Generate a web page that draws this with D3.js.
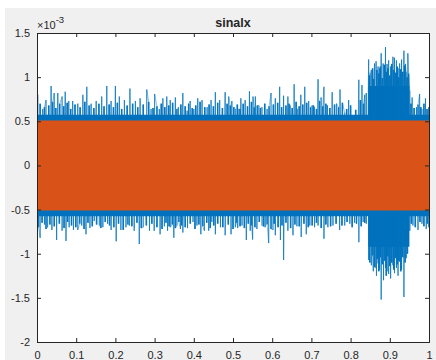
<!DOCTYPE html>
<html>
<head>
<meta charset="utf-8">
<script src="https://cdn.jsdelivr.net/npm/d3@7"></script>
<style>
  html, body { margin: 0; padding: 0; background: #ffffff; }
  svg { display: block; }
  text { font-family: "Liberation Sans", Arial, Helvetica, sans-serif; fill: #262626; }
</style>
</head>
<body>
<script>
// ---------- data (values in units of 1e-3) ----------
const titleText = "sinalx";
const xTicks = [0, 0.1, 0.2, 0.3, 0.4, 0.5, 0.6, 0.7, 0.8, 0.9, 1];
const yTicks = [-2, -1.5, -1, -0.5, 0, 0.5, 1, 1.5];
const exponentBase = "×10";
const exponentPower = "-3";

// blue series: tallest upper spike peaks (time, value)
const blueUpperT = [0.002,0.0145,0.023,0.036,0.044,0.053,0.064,0.072,0.081,0.091,0.104,0.117,0.127,0.138,0.151,0.165,0.178,0.189,0.200,0.210,0.223,0.237,0.251,0.263,0.280,0.291,0.300,0.312,0.321,0.331,
  0.340,0.353,0.361,0.372,0.383,0.391,0.400,0.410,0.421,0.434,0.444,0.455,0.466,0.480,0.489,0.497,0.506,0.515,0.520,0.531,0.542,0.551,0.557,0.566,0.574,0.587,0.597,0.608,0.619,0.629,0.640,0.646,0.656,0.665,
  0.673,0.683,0.693,0.702,0.708,0.717,0.725,0.732,0.741,0.753,0.764,0.773,0.785,0.795,0.806,0.821,0.829,0.836,0.840,
  0.846,0.850,0.853,0.861,0.865,0.870,0.874,0.878,0.883,0.889,0.893,0.897,0.902,0.908,0.912,0.917,0.921,0.925,0.930,0.936,0.940,0.942,0.946,
  0.951,0.957,0.968,0.976,0.982,0.991,0.999];
const blueUpperV = [0.80,0.64,0.74,0.90,0.82,0.82,0.78,0.835,0.73,0.73,0.70,0.80,0.89,0.70,0.73,0.78,0.90,0.73,0.90,0.78,0.74,0.87,0.73,0.76,0.86,0.64,0.81,0.64,0.76,0.78,
  0.74,0.77,0.66,0.82,0.62,0.73,0.64,0.76,0.74,0.66,0.74,0.83,0.74,0.83,0.78,0.73,0.64,0.64,0.76,0.74,0.84,0.78,0.78,0.68,0.66,0.64,0.82,0.76,0.89,0.79,0.78,0.68,0.92,0.64,
  0.80,0.89,0.73,0.68,0.66,0.975,0.77,0.89,0.68,0.83,0.70,0.86,0.60,0.74,0.56,0.97,0.91,0.80,0.82,
  1.20,1.05,1.08,1.155,1.18,1.12,1.10,1.27,1.155,1.34,1.15,1.19,1.12,1.23,1.22,1.19,1.10,1.155,1.20,1.30,1.15,1.06,1.27,
  0.85,0.77,0.66,0.81,0.64,0.76,0.66];

// blue series: medium upper spikes between the tall ones (time, value)
const blueUpperMidT = [0.008,0.019,0.030,0.040,0.048,0.058,0.068,0.077,0.086,0.097,0.110,0.122,0.133,0.145,0.158,0.171,0.184,0.195,0.205,0.216,0.230,0.244,0.257,0.271,0.285,0.296,0.306,0.317,0.326,0.336,
  0.346,0.357,0.367,0.378,0.387,0.396,0.405,0.416,0.428,0.439,0.450,0.461,0.473,0.485,0.493,0.502,0.511,0.518,0.526,0.537,0.547,0.554,0.562,0.570,0.581,0.592,0.603,0.614,0.624,0.635,
  0.643,0.651,0.661,0.669,0.678,0.688,0.698,0.705,0.713,0.721,0.729,0.737,0.747,0.759,0.769,0.779,0.790,0.800,0.813,0.825,0.833,
  0.848,0.856,0.859,0.867,0.872,0.876,0.881,0.886,0.891,0.895,0.900,0.905,0.910,0.915,0.919,0.923,0.928,0.933,0.938,0.944,0.948,
  0.954,0.962,0.972,0.979,0.987,0.995];
const blueUpperMidV = [0.70,0.66,0.68,0.72,0.65,0.70,0.67,0.71,0.64,0.69,0.66,0.72,0.68,0.65,0.70,0.67,0.69,0.66,0.71,0.64,0.68,0.70,0.66,0.69,0.72,0.65,0.67,0.70,0.66,0.68,
  0.71,0.64,0.69,0.67,0.70,0.65,0.68,0.72,0.66,0.69,0.67,0.71,0.65,0.70,0.68,0.66,0.69,0.64,0.70,0.67,0.72,0.66,0.68,0.65,0.70,0.67,0.69,0.71,0.66,0.68,
  0.70,0.65,0.72,0.67,0.69,0.71,0.66,0.68,0.64,0.73,0.67,0.70,0.65,0.69,0.66,0.71,0.64,0.68,0.63,0.74,0.70,
  1.02,1.10,0.98,1.08,1.04,1.12,0.99,1.14,1.06,1.10,1.02,1.15,1.08,1.05,1.12,1.00,1.09,1.06,1.13,1.00,1.04,
  0.70,0.65,0.69,0.66,0.70,0.64];

// blue series: deepest lower spike troughs (time, value)
const blueLowerT = [0.008,0.019,0.027,0.038,0.050,0.064,0.074,0.082,0.093,0.104,0.114,0.125,0.135,0.146,0.159,0.168,0.180,0.189,0.202,0.214,0.227,0.236,0.248,0.261,0.271,0.287,0.299,0.314,0.325,0.333,
  0.340,0.349,0.357,0.366,0.372,0.384,0.398,0.408,0.418,0.427,0.438,0.446,0.455,0.468,0.480,0.495,0.506,0.512,0.523,0.534,0.544,0.550,0.561,0.574,0.582,0.591,0.602,0.608,0.621,0.629,0.640,0.653,0.663,
  0.674,0.687,0.696,0.708,0.717,0.732,0.742,0.755,0.772,0.785,0.798,0.810,0.821,0.832,0.840,
  0.846,0.853,0.858,0.863,0.866,0.870,0.874,0.878,0.884,0.889,0.893,0.897,0.902,0.908,0.912,0.917,0.921,0.925,0.930,0.936,0.942,
  0.951,0.959,0.972,0.982,0.993,0.999];
const blueLowerV = [-0.82,-0.67,-0.70,-0.73,-0.845,-0.74,-0.855,-0.70,-0.73,-0.73,-0.68,-0.78,-0.71,-0.63,-0.68,-0.70,-0.66,-0.73,-0.86,-0.73,-0.70,-0.68,-0.74,-0.89,-0.70,-0.74,-0.74,-0.78,-0.69,-0.74,
  -0.70,-0.82,-0.68,-0.72,-0.76,-0.71,-0.64,-0.68,-0.78,-0.74,-0.74,-0.64,-0.78,-0.70,-0.79,-0.78,-0.70,-0.71,-0.68,-0.845,-0.74,-0.84,-0.72,-0.68,-0.70,-0.88,-0.73,-0.79,-0.845,-1.07,-0.74,-0.79,-0.69,
  -0.81,-0.78,-0.68,-0.70,-0.68,-0.83,-0.70,-0.68,-0.73,-0.68,-0.66,-0.65,-0.87,-0.64,-0.66,
  -1.07,-1.13,-1.20,-1.16,-1.25,-1.11,-1.18,-1.52,-1.30,-1.16,-1.20,-1.23,-1.28,-1.13,-1.22,-1.16,-1.25,-1.09,-1.18,-1.49,-1.05,
  -0.74,-0.68,-0.73,-0.66,-0.72,-0.70];

// blue series: medium lower spikes between the deepest ones (time, value)
const blueLowerMidT = [0.004,0.013,0.023,0.033,0.044,0.057,0.069,0.078,0.088,0.099,0.109,0.120,0.130,0.141,0.152,0.163,0.174,0.185,0.196,0.208,0.220,0.232,0.242,0.255,0.266,0.279,0.293,0.306,0.319,0.329,
  0.337,0.345,0.353,0.362,0.369,0.378,0.391,0.403,0.413,0.423,0.433,0.442,0.451,0.461,0.474,0.488,0.500,0.509,0.518,0.529,0.539,0.547,0.556,0.567,0.578,0.587,0.597,0.605,0.615,0.625,
  0.635,0.647,0.658,0.669,0.681,0.692,0.702,0.713,0.725,0.737,0.749,0.763,0.778,0.791,0.804,0.815,0.827,0.836,
  0.849,0.856,0.861,0.868,0.872,0.876,0.881,0.887,0.891,0.895,0.900,0.905,0.910,0.915,0.919,0.923,0.928,0.933,0.939,0.945,
  0.955,0.965,0.977,0.987,0.996];
const blueLowerMidV = [-0.70,-0.65,-0.72,-0.67,-0.69,-0.66,-0.71,-0.64,-0.68,-0.70,-0.66,-0.72,-0.65,-0.69,-0.67,-0.71,-0.64,-0.68,-0.70,-0.66,-0.73,-0.67,-0.69,-0.65,-0.71,-0.68,-0.66,-0.70,-0.72,-0.65,
  -0.69,-0.67,-0.71,-0.64,-0.68,-0.70,-0.66,-0.72,-0.67,-0.69,-0.65,-0.71,-0.68,-0.66,-0.70,-0.67,-0.72,-0.65,-0.69,-0.71,-0.66,-0.68,-0.70,-0.64,-0.69,-0.67,-0.72,-0.66,-0.70,-0.68,
  -0.65,-0.71,-0.67,-0.69,-0.66,-0.70,-0.68,-0.65,-0.71,-0.67,-0.69,-0.66,-0.68,-0.64,-0.70,-0.66,-0.69,-0.65,
  -1.10,-1.02,-1.15,-1.06,-1.20,-1.04,-1.12,-1.08,-1.25,-1.03,-1.14,-1.10,-1.18,-1.05,-1.12,-1.08,-1.20,-1.04,-1.10,-1.00,
  -0.66,-0.70,-0.64,-0.69,-0.66];

// blue series: dense core band (time, upper, lower)
const blueCoreT  = [0, 0.844, 0.845, 0.949, 0.950, 1];
const blueCoreUp = [0.575, 0.575, 0.90, 0.90, 0.575, 0.575];
const blueCoreLo = [-0.575, -0.575, -0.92, -0.92, -0.575, -0.575];

// orange series: band (time, upper, lower)
const orangeT  = [0, 1];
const orangeUp = [0.51, 0.51];
const orangeLo = [-0.51, -0.51];

// ---------- layout ----------
const W = 436, H = 360;
const mLeft = 37, mRight = 429, mTop = 33, mBottom = 342;
const blue = "#0072BD", orange = "#D95319", axisCol = "#262626";

const svg = d3.select("body").append("svg").attr("width", W).attr("height", H);
svg.append("rect").attr("x", 5).attr("y", 8).attr("width", W - 5).attr("height", H - 8).attr("fill", "#f0f0f0");

const x = d3.scaleLinear().domain([0, 1]).range([mLeft, mRight]);
const y = d3.scaleLinear().domain([-2, 1.5]).range([mBottom, mTop]);

svg.append("rect").attr("x", mLeft).attr("y", mTop).attr("width", mRight - mLeft).attr("height", mBottom - mTop).attr("fill", "#ffffff");

svg.append("clipPath").attr("id", "clip").append("rect")
  .attr("x", mLeft).attr("y", mTop).attr("width", mRight - mLeft).attr("height", mBottom - mTop);
const plot = svg.append("g").attr("clip-path", "url(#clip)");

// blue core
const coreData = blueCoreT.map((t, i) => ({ t, u: blueCoreUp[i], l: blueCoreLo[i] }));
plot.append("path").datum(coreData)
  .attr("d", d3.area().x(d => x(d.t)).y0(d => y(d.l)).y1(d => y(d.u)).curve(d3.curveStepAfter))
  .attr("fill", blue);

const zip = (ts, vs) => ts.slice(0, Math.min(ts.length, vs.length)).map((t, i) => ({ t, v: vs[i] }));
const tall = zip(blueUpperT, blueUpperV).concat(zip(blueLowerT, blueLowerV));
const mid = zip(blueUpperMidT, blueUpperMidV).concat(zip(blueLowerMidT, blueLowerMidV));

// blue signal polyline through all extremes
const pts = tall.concat(mid).sort((a, b) => a.t - b.t);
plot.append("path").datum(pts)
  .attr("d", d3.line().x(d => x(d.t)).y(d => y(d.v)))
  .attr("fill", "none").attr("stroke", blue).attr("stroke-width", 0.8).attr("stroke-opacity", 0.55);

// medium spikes (dense, dark)
plot.selectAll("line.mid").data(mid).join("line").attr("class", "mid")
  .attr("x1", d => x(d.t)).attr("x2", d => x(d.t))
  .attr("y1", y(0)).attr("y2", d => y(d.v))
  .attr("stroke", blue).attr("stroke-width", 1.6).attr("stroke-opacity", 0.95);

// tall spikes (thin, lighter)
plot.selectAll("line.tall").data(tall).join("line").attr("class", "tall")
  .attr("x1", d => x(d.t)).attr("x2", d => x(d.t))
  .attr("y1", y(0)).attr("y2", d => y(d.v))
  .attr("stroke", blue).attr("stroke-width", 1.1).attr("stroke-opacity", 0.7);

// orange band
const orData = orangeT.map((t, i) => ({ t, u: orangeUp[i], l: orangeLo[i] }));
plot.append("path").datum(orData)
  .attr("d", d3.area().x(d => x(d.t)).y0(d => y(d.l)).y1(d => y(d.u)))
  .attr("fill", orange);

// ---------- axes ----------
const tickLen = 4;
const gx = svg.append("g").attr("transform", `translate(0,${mBottom})`)
  .call(d3.axisBottom(x).tickValues(xTicks).tickSize(-tickLen).tickPadding(9.5).tickFormat(d => String(d)));
const gxt = svg.append("g").attr("transform", `translate(0,${mTop})`)
  .call(d3.axisTop(x).tickValues(xTicks).tickSize(-tickLen).tickFormat(""));
const gy = svg.append("g").attr("transform", `translate(${mLeft},0)`)
  .call(d3.axisLeft(y).tickValues(yTicks).tickSize(-tickLen).tickPadding(7).tickFormat(d => String(d)));
const gyr = svg.append("g").attr("transform", `translate(${mRight},0)`)
  .call(d3.axisRight(y).tickValues(yTicks).tickSize(-tickLen).tickFormat(""));

[gx, gxt, gy, gyr].forEach(g => {
  g.select(".domain").attr("stroke", axisCol).attr("stroke-width", 1);
  g.selectAll(".tick line").attr("stroke", axisCol).attr("stroke-width", 1);
  g.selectAll(".tick text").attr("fill", axisCol).attr("font-size", 11)
    .attr("font-family", '"Liberation Sans", Arial, sans-serif');
});

// exponent label
const ex = svg.append("text").attr("x", mLeft).attr("y", 28.5).attr("font-size", 11);
ex.append("tspan").text(exponentBase);
ex.append("tspan").attr("dy", -5.5).attr("font-size", 9.5).text(exponentPower);

// title
svg.append("text").attr("x", (mLeft + mRight) / 2).attr("y", 27)
  .attr("text-anchor", "middle").attr("font-weight", "bold").attr("font-size", 12.5)
  .text(titleText);
</script>
</body>
</html>
